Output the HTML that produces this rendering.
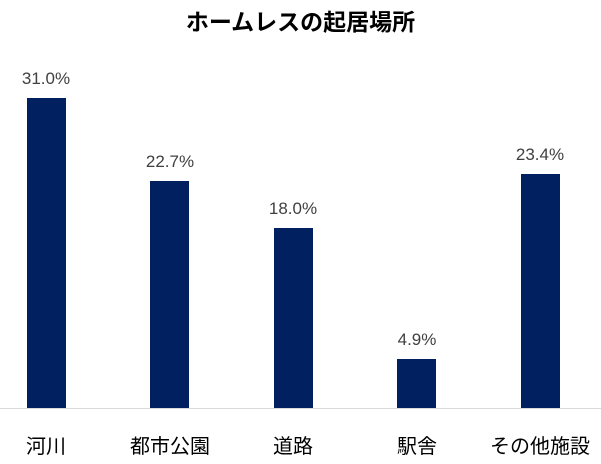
<!DOCTYPE html>
<html><head><meta charset="utf-8"><style>
body{margin:0;width:601px;height:464px;background:#fff;overflow:hidden;position:relative;font-family:"Liberation Sans","Noto Sans CJK JP",sans-serif}
.t{position:absolute;top:3px;left:0;width:601px;text-align:center;font-weight:bold;font-size:23px;color:#000}
.b{position:absolute;width:39px;background:#002060}
.v{position:absolute;width:120px;text-align:center;font-size:17px;color:#404040}
.c{position:absolute;top:430px;width:160px;text-align:center;font-size:20px;color:#000}
.ax{position:absolute;left:0;top:408px;width:601px;height:1px;background:#d9d9d9}
</style></head><body>
<div class="t">ホームレスの起居場所</div>
<div class="ax"></div>
<div class="b" style="left:27px;top:98px;height:310px"></div>
<div class="b" style="left:150px;top:181px;height:227px"></div>
<div class="b" style="left:274px;top:228px;height:180px"></div>
<div class="b" style="left:397px;top:359px;height:49px"></div>
<div class="b" style="left:521px;top:174px;height:234px"></div>
<div class="v" style="left:-14px;top:69px">31.0%</div>
<div class="v" style="left:110px;top:152px">22.7%</div>
<div class="v" style="left:233px;top:199px">18.0%</div>
<div class="v" style="left:357px;top:330px">4.9%</div>
<div class="v" style="left:480px;top:145px">23.4%</div>
<div class="c" style="left:-34px">河川</div>
<div class="c" style="left:90px">都市公園</div>
<div class="c" style="left:213px">道路</div>
<div class="c" style="left:337px">駅舎</div>
<div class="c" style="left:460px">その他施設</div>
</body></html>
